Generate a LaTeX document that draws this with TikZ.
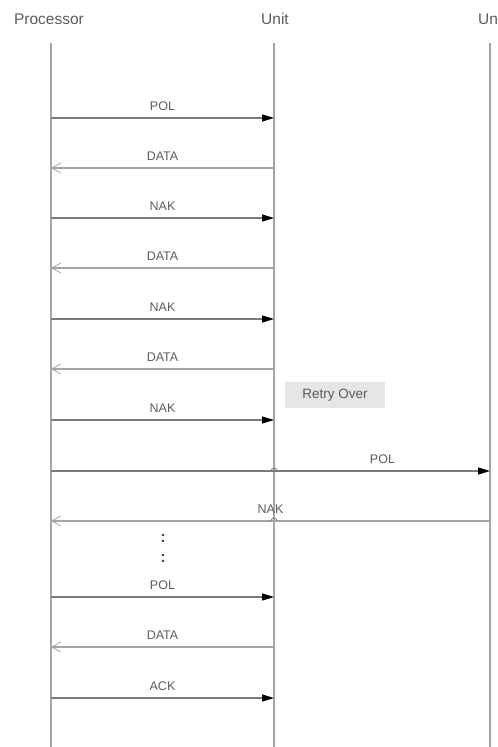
\documentclass[tikz,border=0pt]{standalone}
\usepackage{fontspec}
\setmainfont{Liberation Sans}
\usetikzlibrary{positioning, arrows.meta}
\definecolor{lifegray}{HTML}{A4A4A4}
\definecolor{msggray}{HTML}{7A7A7A}
\definecolor{textgray}{HTML}{5C5C5C}
\definecolor{boxgray}{HTML}{E6E6E6}

\begin{document}
\begin{tikzpicture}[
        x=1pt, y=-1pt,
        font=\fontsize{12.5}{14}\selectfont,
        header/.style={text=textgray, font=\fontsize{15.5}{18}\selectfont, inner sep=0pt},
        lifeline/.style={draw=lifegray, line width=1.6pt},
        msglabel/.style={text=textgray, inner sep=0pt, midway, yshift=12pt},
        sendarrow/.style={draw=msggray, line width=1.2pt, -{Triangle[length=12pt, width=7pt, black]}},
        replyarrow/.style={draw=lifegray, line width=1.2pt, -{Straight Barb[length=9pt, width=10pt, line width=0.8pt]}},
        retrybox/.style={fill=boxgray, text=textgray, minimum width=100pt, minimum height=26pt, inner sep=0pt, font=\fontsize{13.5}{16}\selectfont},
        hop/.style={draw=msggray, line width=0.8pt},
        dots/.style={text=textgray!80!black, inner sep=0pt, font=\fontsize{16}{18}\selectfont\bfseries}
    ]
    \clip (0,0) rectangle (498,747);

    % Nodes
    \node (proc) [header] at (49,19) {Processor};
    \node (unit) [header] at (275,19) {Unit};
    \node (unit2) [header] at (492,19) {Unit};

    \coordinate (proctop) at (51,43);
    \coordinate (procbot) at (51,747);
    \coordinate (unittop) at (274,43);
    \coordinate (unitbot) at (274,747);
    \coordinate (unit2top) at (490,43);
    \coordinate (unit2bot) at (490,747);

    \node (retry) [retrybox] at (335,395) {Retry Over};

    \node (dotsa) [dots] at (163,538) {:};
    \node (dotsb) [dots] at (163,558) {:};

    % Lifelines
    \draw [lifeline] (proctop) -- (procbot);
    \draw [lifeline] (unittop) -- (unitbot);
    \draw [lifeline] (unit2top) -- (unit2bot);

    % Message ends
    \coordinate (p1) at (51,118);  \coordinate (u1) at (274,118);
    \coordinate (p2) at (51,168);  \coordinate (u2) at (274,168);
    \coordinate (p3) at (51,218);  \coordinate (u3) at (274,218);
    \coordinate (p4) at (51,268);  \coordinate (u4) at (274,268);
    \coordinate (p5) at (51,319);  \coordinate (u5) at (274,319);
    \coordinate (p6) at (51,369);  \coordinate (u6) at (274,369);
    \coordinate (p7) at (51,420);  \coordinate (u7) at (274,420);
    \coordinate (p8) at (51,471);  \coordinate (v8) at (490,471);
    \coordinate (p9) at (51,521);  \coordinate (v9) at (490,521);
    \coordinate (p10) at (51,597); \coordinate (u10) at (274,597);
    \coordinate (p11) at (51,647); \coordinate (u11) at (274,647);
    \coordinate (p12) at (51,698); \coordinate (u12) at (274,698);

    % Arrows
    \draw [sendarrow] (p1) -- node [msglabel] {POL} (u1);
    \draw [replyarrow] (u2) -- node [msglabel] {DATA} (p2);
    \draw [sendarrow] (p3) -- node [msglabel] {NAK} (u3);
    \draw [replyarrow] (u4) -- node [msglabel] {DATA} (p4);
    \draw [sendarrow] (p5) -- node [msglabel] {NAK} (u5);
    \draw [replyarrow] (u6) -- node [msglabel] {DATA} (p6);
    \draw [sendarrow] (p7) -- node [msglabel] {NAK} (u7);
    \draw [sendarrow] (p8) -- node [msglabel, pos=0.755] {POL} (v8);
    \draw [replyarrow] (v9) -- node [msglabel] {NAK} (p9);
    \draw [sendarrow] (p10) -- node [msglabel] {POL} (u10);
    \draw [replyarrow] (u11) -- node [msglabel] {DATA} (p11);
    \draw [sendarrow] (p12) -- node [msglabel] {ACK} (u12);

    % Hops over the Unit lifeline
    \draw [hop] (271,471) arc [start angle=180, end angle=360, radius=3];
    \draw [hop] (271,521) arc [start angle=180, end angle=360, radius=3];

\end{tikzpicture}
\end{document}
